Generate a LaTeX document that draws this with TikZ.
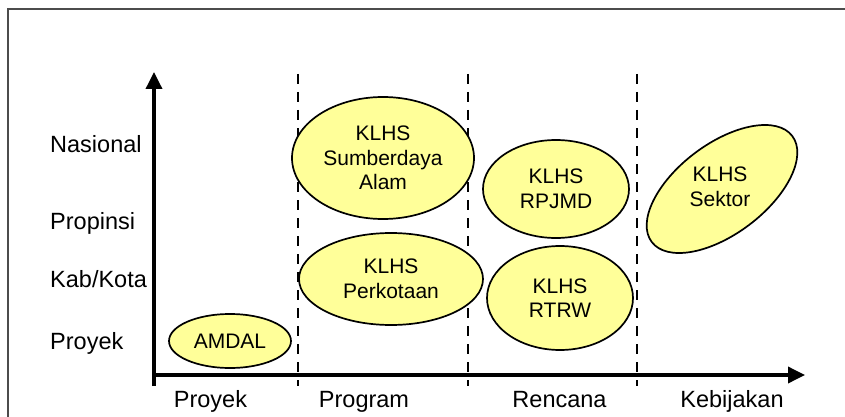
\documentclass[tikz,border=0pt]{standalone}
\usepackage{fontspec}
\setmainfont{Liberation Sans}
\usetikzlibrary{arrows.meta,shapes.geometric}
\definecolor{blassgelb}{RGB}{255,255,153}
\tikzstyle{every picture}=[x=1pt,y=-1pt]
\tikzstyle{achse}=[line width=3.5pt,-{Triangle[length=17pt,width=16pt]}]
\tikzstyle{trenner}=[line width=2.6pt,dash pattern=on 10pt off 8pt]
\tikzstyle{blase}=[ellipse,draw,line width=1.7pt,fill=blassgelb,inner sep=0pt,align=center,font=\fontsize{21}{24.5}\selectfont]
\tikzstyle{stufe}=[font=\fontsize{23.5}{28}\selectfont,inner sep=0pt]

\begin{document}
\begin{tikzpicture}
			\useasboundingbox (0,0) rectangle (845,417);
			% Rahmen zeichnen
			\draw[line width=2pt,black!70] (8,417) -- (8,9) -- (845,9);
			% Achsen zeichnen
			\coordinate (o) at (154,386);
			\coordinate (ox) at (154,375);
			\coordinate (ytop) at (154,72);
			\coordinate (xend) at (805,375);
			\draw[achse] (o) -- (ytop);
			\draw[achse] (ox) -- (xend);
			% Trennlinien zeichnen
			\foreach \x/\name in {298/a,468/b,637/c} {
				\coordinate (\name top) at (\x,74);
				\coordinate (\name bot) at (\x,386);
				\draw[trenner] (\name top) -- (\name bot);
			}
			% Ebenen beschriften
			\foreach \y/\txt in {152/Nasional,229/Propinsi,287/Kab\slash Kota,349/Proyek}
				\node[stufe,anchor=base west] (l\y) at (50,\y) {\txt};
			\foreach \x/\txt in {210.5/Proyek,364/Program,559.5/Rencana,732/Kebijakan}
				\node[stufe,anchor=base] (b\x) at (\x,407) {\txt};
			% Blasen zeichnen
			\node[blase,minimum width=122,minimum height=54] (amdal) at (230,341) {AMDAL};
			\node[blase,minimum width=182,minimum height=122] (sda) at (383,158) {KLHS\\Sumberdaya\\Alam};
			\node[blase,minimum width=184,minimum height=92] (kota) at (391,279) {KLHS\\Perkotaan};
			\node[blase,minimum width=146,minimum height=98] (rpjmd) at (556,189) {KLHS\\RPJMD};
			\node[blase,minimum width=146,minimum height=104] (rtrw) at (560,298) {KLHS\\RTRW};
			\node[blase,rotate=37,minimum width=176,minimum height=90] (sektor) at (722,189) {};
			\node[align=center,inner sep=0pt,font=\fontsize{21}{24.5}\selectfont] (sektortxt) at ([xshift=-2pt,yshift=2pt]sektor.center) {KLHS\\Sektor};
		\end{tikzpicture}
\end{document}
